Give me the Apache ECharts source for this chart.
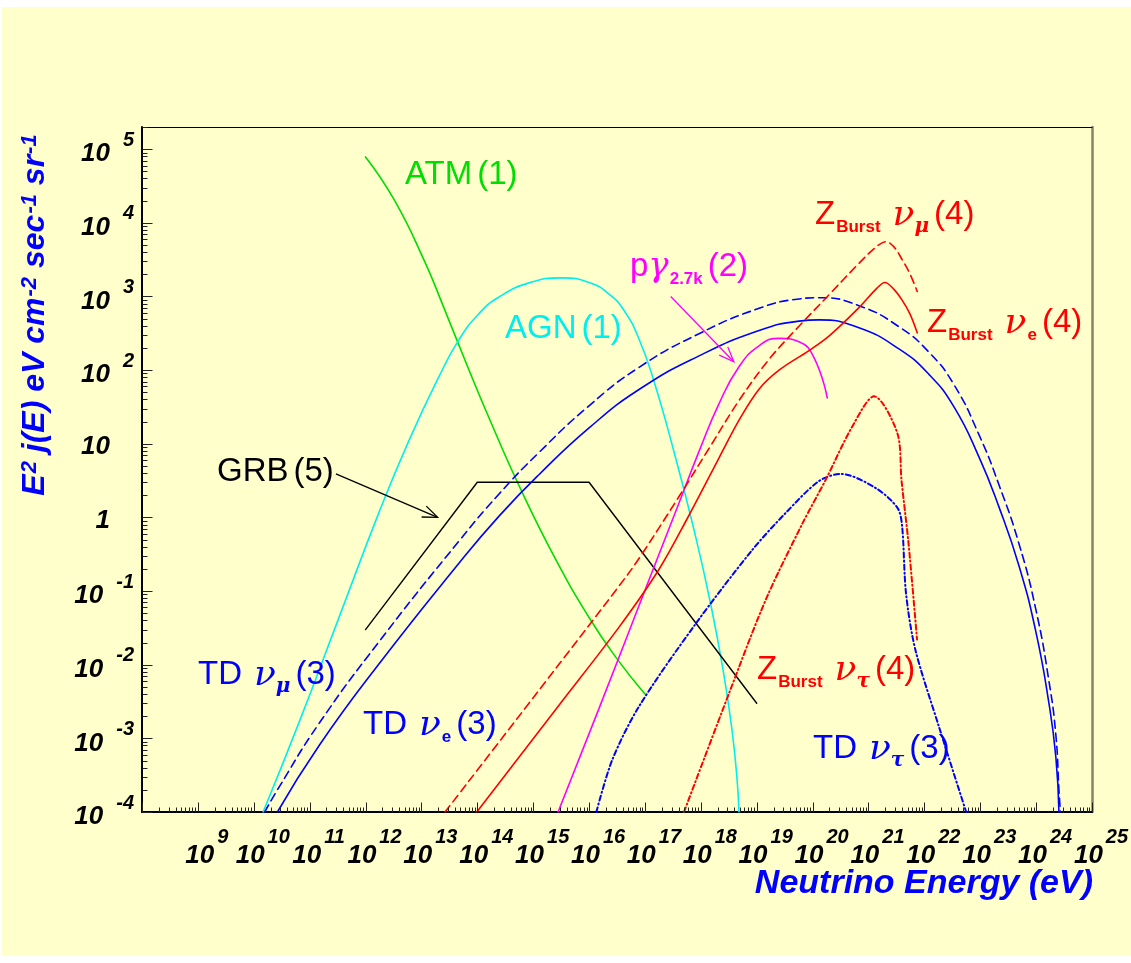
<!DOCTYPE html>
<html>
<head>
<meta charset="utf-8">
<script src="https://cdn.jsdelivr.net/npm/echarts@6.0.0/dist/echarts.min.js"></script>
<style>
  html, body { margin: 0; padding: 0; background: #fff; }
  #chart { width: 1131px; height: 963px; }
</style>
</head>
<body>
<div id="chart"></div>
<script>
// values: [energy in eV, E^2 j(E)]
const atmData = [[1e12, 7.85e4], [3.25e12, 2.06e4], [1.12e13, 3.09e3], [2.55e13, 6.89e2], [7.13e13, 99.5], [1.63e14, 22.2], [5.6e14, 2.69], [2.37e15, 0.295], [1e16, 4.37e-2], [3.17e16, 1.2e-2], [1e17, 4.0e-3]];
const agnData = [[1.47e10, 1e-4], [6.49e10, 1.66e-3], [3.37e11, 4.43e-2], [1.75e12, 1.18], [6.03e12, 11.2], [2.07e13, 82], [4.73e13, 261], [1.08e14, 588], [2.45e14, 984], [8.45e14, 1.53e3], [3.29e15, 1.79e3], [1e16, 1.55e3], [2.28e16, 1.08e3], [4.23e16, 646], [7.83e16, 265], [1.46e17, 69.5], [3.31e17, 7.78], [7.55e17, 0.679], [1.52e18, 6.37e-2], [2.6e18, 7.1e-3], [3.61e18, 1.31e-3], [4.44e18, 2.86e-4], [4.82e18, 1e-4]];
const grbData = [[1e12, 0.03], [1e14, 3], [1e16, 3], [1e19, 0.003]];
const tdMuData = [[1.57e10, 1e-4], [2.65e10, 2e-4], [1.48e11, 1.6e-3], [1.75e12, 2.06e-2], [4.73e13, 0.48], [2.45e14, 2.08], [1.28e15, 7.66], [1e16, 32.8], [7.83e16, 109], [9.29e17, 312], [1.1e19, 690], [5.71e19, 926], [1.3e20, 962], [6.76e20, 750], [3.51e21, 388], [1.21e22, 175], [3.39e22, 63.4], [9.48e22, 13.3], [2.16e23, 2.78], [4.93e23, 0.44], [9.93e23, 5.54e-2], [1.7e24, 5.92e-3], [2.26e24, 1.09e-3], [2.56e24, 2e-4], [2.72e24, 1e-4]];
const tdEData = [[2.65e10, 1e-4], [1.48e11, 8.01e-4], [1.75e12, 1.03e-2], [4.73e13, 0.24], [2.45e14, 1.04], [1.28e15, 3.83], [1e16, 16.4], [7.83e16, 54.5], [9.29e17, 156], [1.1e19, 345], [5.71e19, 463], [1.3e20, 481], [6.76e20, 375], [3.51e21, 194], [1.21e22, 87.5], [3.39e22, 31.7], [9.48e22, 6.64], [2.16e23, 1.39], [4.93e23, 0.22], [9.93e23, 2.77e-2], [1.7e24, 2.96e-3], [2.26e24, 5.47e-4], [2.56e24, 1e-4]];
const tdTauData = [[1.35e16, 1e-4], [2.6e16, 5.1e-4], [7.8e16, 2.7e-3], [8.1e17, 3.6e-2], [8.3e18, 0.36], [3.3e19, 1.15], [1.29e20, 3.1], [3.2e20, 3.9], [1.35e21, 2.5], [3.3e21, 1.35], [4.0e21, 0.76], [4.7e21, 9.3e-2], [6.9e21, 1.6e-2], [1.82e22, 1.45e-3], [5.6e22, 1e-4]];
const pgData = [[2.79e15, 1e-4], [1.51e16, 2.55e-3], [1.18e17, 0.141], [4.07e17, 1.57], [9.29e17, 7.88], [2.11e18, 34.8], [4.82e18, 111], [1.1e19, 214], [2.51e19, 270], [5.71e19, 242], [1.06e20, 148], [1.83e20, 42]];
const zMuData = [[2.65e13, 1e-4], [1.28e15, 4.54e-3], [3.44e16, 0.117], [7.83e16, 0.277], [4.07e17, 1.92], [1.4e18, 8.63], [4.83e18, 38.7], [1.66e19, 140], [5.71e19, 394], [1.96e20, 1.05e3], [6.76e20, 2.82e3], [1.42e21, 4.82e3], [2.06e21, 5.55e3], [2.86e21, 4.71e3], [4.03e21, 3.14e3], [5.52e21, 2.03e3], [7.46e21, 1.17e3]];
const zEData = [[9.8e13, 1e-4], [2.9e15, 2.82e-3], [3.44e16, 3.24e-2], [1.79e17, 0.198], [6.15e17, 1.07], [1.72e18, 4.73], [4.83e18, 20.9], [1.1e19, 55.1], [2.51e19, 99.8], [8.63e19, 184], [1.96e20, 289], [6.76e20, 705], [1.42e21, 1.3e3], [1.97e21, 1.55e3], [2.86e21, 1.25e3], [3.97e21, 899], [5.52e21, 581], [7.46e21, 321]];
const zTauData = [[5.0e17, 1e-4], [3.2e18, 4.1e-3], [1.45e19, 7.6e-2], [6.6e19, 0.83], [1.7e20, 3.2], [5.1e20, 17], [1.26e21, 44], [3.3e21, 13.8], [3.9e21, 3.2], [5.2e21, 0.45], [7.4e21, 2.2e-2]];

// annotation arrows [x0, y0, x1, y1] in data units
const arrowData = [[2.95e11, 3.9, 1.95e13, 1.0], [2.9e17, 1e3, 3.9e18, 1.3e2]];
const arrowColors = ['#000000', '#ff00ff'];

// tick label exponents
const xLabelExps = [9, 10, 11, 12, 13, 14, 15, 16, 17, 18, 19, 20, 21, 22, 23, 24, 25];
const yLabelExps = [-4, -3, -2, -1, 0, 1, 2, 3, 4, 5];

// axis range
const xMin = 1e8, xMax = 1e25;
const yMin = 1e-4, yMax = 2e5;

const SANS = '"Liberation Sans", Arial, sans-serif';
const SERIF = '"DejaVu Serif", "Liberation Serif", serif';
const BASE_FONT = 'italic bold 26px ' + SANS;
const EXP_FONT = 'italic bold 20px ' + SANS;

const measureCtx = document.createElement('canvas').getContext('2d');
function textWidth(text, font) {
  measureCtx.font = font;
  return measureCtx.measureText(text).width;
}

// ROOT style ticks: 1..9 inside every decade
const tickItems = [];
for (let d = 8; d < 25; d++) {
  for (let k = 1; k <= 9; k++) tickItems.push({ axis: 'x', v: k * Math.pow(10, d), major: k === 1 });
}
tickItems.push({ axis: 'x', v: xMax, major: true });
for (let d = -4; d <= 5; d++) {
  for (let k = 1; k <= 9; k++) {
    const v = k * Math.pow(10, d);
    if (v <= yMax) tickItems.push({ axis: 'y', v: v, major: k === 1 });
  }
}

const chart = echarts.init(document.getElementById('chart'), null, { renderer: 'canvas' });

function curve(name, data, color, type, width, smooth) {
  return {
    type: 'line', name: name, data: data,
    showSymbol: false, symbol: 'none',
    smooth: smooth == null ? 0.5 : smooth,
    lineStyle: { color: color, width: width || 1.6, type: type || 'solid', cap: 'round' },
    z: 3
  };
}

function labelRich(color) {
  return {
    n: { fill: color, fontSize: 33, fontFamily: SANS, lineHeight: 36, verticalAlign: 'top' },
    p: { fill: color, fontSize: 33, fontFamily: SANS, lineHeight: 36, verticalAlign: 'top', padding: [0, 0, 0, 5] },
    g: { fill: color, fontSize: 36, fontFamily: SERIF, fontStyle: 'italic', lineHeight: 33, verticalAlign: 'top', padding: [0, 0, 0, 12] },
    g0: { fill: color, fontSize: 34, fontFamily: SERIF, fontStyle: 'italic', lineHeight: 33, verticalAlign: 'top' },
    s: { fill: color, fontSize: 17, fontFamily: SANS, fontWeight: 'bold', lineHeight: 17, verticalAlign: 'top', padding: [21, 0, 0, 1] },
    gs: { fill: color, fontSize: 20, fontFamily: SERIF, fontStyle: 'italic', fontWeight: 'bold', lineHeight: 20, verticalAlign: 'top', padding: [19, 0, 0, 0] }
  };
}

function label(text, x, y, color) {
  return {
    type: 'text', x: x, y: y, z: 100, silent: true,
    style: { text: text, rich: labelRich(color), textAlign: 'left', textVerticalAlign: 'top' }
  };
}

const titleRich = {
  t: { fill: '#0000ff', fontSize: 32, fontWeight: 'bold', fontStyle: 'italic', fontFamily: SANS, lineHeight: 32, verticalAlign: 'bottom' },
  s: { fill: '#0000ff', fontSize: 22, fontWeight: 'bold', fontStyle: 'italic', fontFamily: SANS, lineHeight: 22, verticalAlign: 'top', padding: [0, 0, 18, 1] }
};

function numText(text, x, y, font, align) {
  return { type: 'text', style: { text: text, x: x, y: y, font: font, fill: '#000', textAlign: align, textVerticalAlign: 'middle' } };
}

const option = {
  animation: false,
  backgroundColor: '#ffffff',
  grid: { left: 142, top: 127, width: 950, height: 685, containLabel: false, outerBoundsMode: 'none' },
  xAxis: [{
    type: 'log', logBase: 10, min: xMin, max: xMax, interval: 1,
    axisLine: { show: true, onZero: false, lineStyle: { color: '#000', width: 2 } },
    axisTick: { show: false }, splitLine: { show: false }, minorTick: { show: false },
    axisLabel: { show: false }
  }, {
    type: 'value', position: 'top', show: true,
    axisLine: { show: true, onZero: false, lineStyle: { color: '#000', width: 1 } },
    axisTick: { show: false }, axisLabel: { show: false }, splitLine: { show: false }
  }],
  yAxis: [{
    type: 'log', logBase: 10, min: yMin, max: yMax, interval: 1,
    axisLine: { show: true, onZero: false, lineStyle: { color: '#000', width: 2 } },
    axisTick: { show: false }, splitLine: { show: false }, minorTick: { show: false },
    axisLabel: { show: false }
  }, {
    type: 'value', position: 'right', show: true,
    axisLine: { show: true, onZero: false, lineStyle: { color: '#85856a', width: 2.5 } },
    axisTick: { show: false }, axisLabel: { show: false }, splitLine: { show: false }
  }],
  graphic: [
    { type: 'rect', z: -100, silent: true, shape: { x: 2, y: 7, width: 1129, height: 949 }, style: { fill: '#ffffcc' } },
    {
      type: 'text', x: 35, y: 315, rotation: Math.PI / 2, z: 100, silent: true,
      style: {
        text: '{t|E}{s|2}{t| j(E) eV cm}{s|-2}{t| sec}{s|-1}{t| sr}{s|-1}',
        rich: titleRich, textAlign: 'center', textVerticalAlign: 'middle'
      }
    },
    {
      type: 'text', x: 1093, y: 884, z: 100, silent: true,
      style: {
        text: 'Neutrino Energy (eV)', fill: '#0000ff', fontSize: 34, fontWeight: 'bold', fontStyle: 'italic',
        fontFamily: SANS, textAlign: 'right', textVerticalAlign: 'middle'
      }
    },
    label('{n|ATM}{p|(1)}', 405, 158, '#00dd00'),
    label('{n|AGN}{p|(1)}', 505, 312, '#00eeee'),
    label('{n|GRB}{p|(5)}', 217, 455, '#000000'),
    label('{n|p}{g0|γ}{s|2.7k}{p|(2)}', 630, 250, '#ff00ff'),
    label('{n|Z}{s|Burst}{g|ν}{gs|μ}{p|(4)}', 815, 198, '#ff0000'),
    label('{n|Z}{s|Burst}{g|ν}{s|e}{p|(4)}', 927, 306, '#ff0000'),
    label('{n|Z}{s|Burst}{g|ν}{gs|τ}{p|(4)}', 757, 653, '#ff0000'),
    label('{n|TD}{g|ν}{gs|μ}{p|(3)}', 198, 658, '#0000ff'),
    label('{n|TD}{g|ν}{s|e}{p|(3)}', 363, 708, '#0000ff'),
    label('{n|TD}{g|ν}{gs|τ}{p|(3)}', 813, 732, '#0000ff')
  ],
  series: [
    curve('ATM(1)', atmData, '#00dd00'),
    curve('AGN(1)', agnData, '#00eeee'),
    curve('GRB(5)', grbData, '#000000', 'solid', 1.4, false),
    curve('TD nu_mu(3)', tdMuData, '#0000ff', [8, 5]),
    curve('TD nu_e(3)', tdEData, '#0000ff'),
    curve('TD nu_tau(3)', tdTauData, '#0000ff', [5, 3, 1, 3], 2, 0.3),
    curve('p gamma(2)', pgData, '#ff00ff'),
    curve('Z nu_mu(4)', zMuData, '#ff0000', [8, 5], 1.6, 0.35),
    curve('Z nu_e(4)', zEData, '#ff0000', 'solid', 1.6, 0.35),
    curve('Z nu_tau(4)', zTauData, '#ff0000', [5, 3, 1, 3], 2, 0.3),
    {
      type: 'custom', name: 'arrows', silent: true, z: 4, clip: false,
      data: arrowData,
      encode: { x: [0, 2], y: [1, 3] },
      renderItem: function (params, api) {
        const p0 = api.coord([api.value(0), api.value(1)]);
        const p1 = api.coord([api.value(2), api.value(3)]);
        const ang = Math.atan2(p1[1] - p0[1], p1[0] - p0[0]);
        const L = 16, a = 0.38;
        const h1 = [p1[0] - L * Math.cos(ang - a), p1[1] - L * Math.sin(ang - a)];
        const h2 = [p1[0] - L * Math.cos(ang + a), p1[1] - L * Math.sin(ang + a)];
        const c = arrowColors[params.dataIndex];
        return {
          type: 'group',
          children: [
            { type: 'line', shape: { x1: p0[0], y1: p0[1], x2: p1[0], y2: p1[1] }, style: { stroke: c, lineWidth: 1.3 } },
            { type: 'polyline', shape: { points: [h1, p1, h2] }, style: { stroke: c, fill: null, lineWidth: 1.3 } }
          ]
        };
      }
    },
    {
      type: 'custom', name: 'ticks', silent: true, z: 5, clip: false,
      data: tickItems.map(function (t) { return t.axis === 'x' ? [t.v, yMin] : [xMin, t.v]; }),
      renderItem: function (params, api) {
        const t = tickItems[params.dataIndex];
        const p = api.coord([api.value(0), api.value(1)]);
        const len = t.major ? 10 : 5;
        const x = Math.round(p[0]) + 0.5, y = Math.round(p[1]) + 0.5;
        const shape = t.axis === 'x'
          ? { x1: x, y1: y, x2: x, y2: y - len }
          : { x1: x, y1: y, x2: x + len, y2: y };
        return { type: 'line', shape: shape, style: { stroke: '#222', lineWidth: 1 } };
      }
    },
    {
      // x tick labels: 10 with raised exponent
      type: 'custom', name: 'xLabels', silent: true, z: 6, clip: false,
      data: xLabelExps.map(function (e) { return [Math.pow(10, e), yMin]; }),
      renderItem: function (params, api) {
        const p = api.coord([api.value(0), api.value(1)]);
        const es = String(xLabelExps[params.dataIndex]);
        const bw = textWidth('10', BASE_FONT), ew = textWidth(es, EXP_FONT), gap = 3;
        const left = p[0] + 9 - (bw + gap + ew) / 2;
        return {
          type: 'group',
          children: [
            numText('10', left, p[1] + 44, BASE_FONT, 'left'),
            numText(es, left + bw + gap, p[1] + 25, EXP_FONT, 'left')
          ]
        };
      }
    },
    {
      // y tick labels
      type: 'custom', name: 'yLabels', silent: true, z: 6, clip: false,
      data: yLabelExps.map(function (e) { return [xMin, Math.pow(10, e)]; }),
      renderItem: function (params, api) {
        const p = api.coord([api.value(0), api.value(1)]);
        const e = yLabelExps[params.dataIndex];
        if (e === 0 || e === 1) {
          return numText(e === 0 ? '1' : '10', 110, p[1] + 3, BASE_FONT, 'right');
        }
        const es = String(e);
        const ew = textWidth(es, EXP_FONT);
        return {
          type: 'group',
          children: [
            numText('10', 134 - ew - 13, p[1] + 5, BASE_FONT, 'right'),
            numText(es, 134, p[1] - 9, EXP_FONT, 'right')
          ]
        };
      }
    }
  ]
};

chart.setOption(option);
</script>
</body>
</html>
